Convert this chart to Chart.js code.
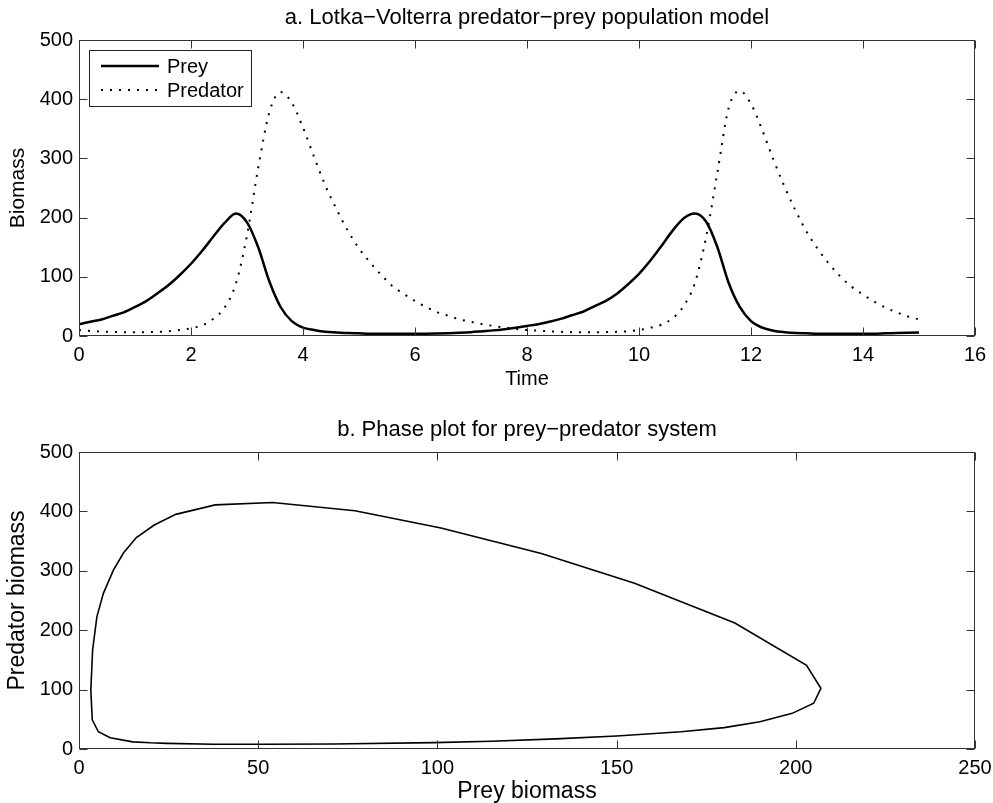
<!DOCTYPE html>
<html>
<head>
<meta charset="utf-8">
<title>Lotka-Volterra predator-prey</title>
<script src="https://cdn.jsdelivr.net/npm/chart.js@4.4.1/dist/chart.umd.min.js"></script>
<style>
  html, body { margin: 0; padding: 0; background: #fff; }
  #wrap { position: relative; width: 993px; height: 803px; }
  canvas { position: absolute; left: 0; }
  #timeChart { top: 0; }
  #phaseChart { top: 395px; }
</style>
</head>
<body>
<div id="wrap">
  <canvas id="timeChart" width="993" height="395"></canvas>
  <canvas id="phaseChart" width="993" height="408"></canvas>
</div>
<script>
// values
const time = [0, 0.2, 0.4, 0.6, 0.8, 1, 1.2, 1.4, 1.6, 1.8, 2, 2.2, 2.4, 2.6, 2.8, 3, 3.2, 3.4, 3.6, 3.8,
  4, 4.2, 4.4, 4.6, 4.8, 5, 5.2, 5.4, 5.6, 5.8, 6, 6.2, 6.4, 6.6, 6.8, 7, 7.2, 7.4, 7.6, 7.8,
  8, 8.2, 8.4, 8.6, 8.8, 9, 9.2, 9.4, 9.6, 9.8, 10, 10.2, 10.4, 10.6, 10.8, 11, 11.2, 11.4, 11.6, 11.8,
  12, 12.2, 12.4, 12.6, 12.8, 13, 13.2, 13.4, 13.6, 13.8, 14, 14.2, 14.4, 14.6, 14.8, 15];
const prey = [20, 24, 28, 34, 40, 49, 59, 72, 86, 103, 122, 144, 168, 191, 207, 192, 150, 92, 49, 25,
  14, 10, 7, 6, 5, 4.5, 4, 4, 3.8, 3.8, 4, 4, 4.3, 4.8, 5.5, 6.5, 8, 9.5, 11.5, 14,
  17, 20, 24, 29, 35, 41, 50, 59, 71, 87, 105, 127, 152, 178, 199, 207, 193, 150, 90, 49,
  25, 14, 9, 6.5, 5, 4.5, 4, 4, 3.8, 3.8, 4, 4, 4.5, 5, 5.5, 6];
const predator = [10, 8.5, 7.5, 7, 6.5, 6.5, 6.5, 7, 8, 10, 13, 18, 29, 48, 88, 170, 284, 378, 412, 394,
  352, 302, 254, 214, 178, 148, 124, 103, 84, 71, 59, 49, 40, 34, 28, 24, 20, 17, 14, 12,
  10, 9, 8, 7, 6.5, 6.3, 6.3, 6.5, 7, 8, 10, 14, 19, 30, 51, 90, 168, 276, 385, 414,
  392, 348, 298, 252, 211, 175, 146, 121, 100, 83, 70, 58, 48, 40, 33, 28];

// phase plot vertices (prey, predator)
const phasePrey = [20, 24.5, 37.5, 52, 71, 99, 115, 133, 150, 168, 180, 190, 199, 205, 207, 203, 183, 155,
  129, 101, 77, 54, 38, 27, 21, 16, 12.4, 9.6, 6.8, 5, 3.8, 3.3, 3.7, 5.4, 8.7, 15, 20];
const phasePredator = [10.5, 9.5, 8, 8, 8.4, 10.7, 13, 17, 22, 29, 36, 46, 60, 77, 102, 141, 212, 279,
  329, 372, 401, 415, 411, 395, 377, 356, 330, 301, 262, 223, 167, 99, 49, 29, 19, 12, 10.5];

const FONT = "Arial, 'Liberation Sans', Helvetica, sans-serif";

// MATLAB style box with inward ticks on all four sides
const boxPlugin = {
  id: 'matlabBox',
  afterDraw(chart) {
    const { ctx, chartArea: a, scales: { x, y } } = chart;
    const L = Math.round(a.left) + 0.5, R = Math.round(a.right) - 0.5;
    const T = Math.round(a.top) + 0.5, B = Math.round(a.bottom) - 0.5;
    const len = 8;
    ctx.save();
    ctx.strokeStyle = '#333';
    ctx.lineWidth = 1;
    ctx.strokeRect(L, T, R - L, B - T);
    ctx.beginPath();
    x.ticks.forEach(t => {
      const px = Math.round(x.getPixelForValue(t.value)) + 0.5;
      ctx.moveTo(px, B); ctx.lineTo(px, B - len);
      ctx.moveTo(px, T); ctx.lineTo(px, T + len);
    });
    y.ticks.forEach(t => {
      const py = Math.round(y.getPixelForValue(t.value)) + 0.5;
      ctx.moveTo(L, py); ctx.lineTo(L + len, py);
      ctx.moveTo(R, py); ctx.lineTo(R - len, py);
    });
    ctx.stroke();
    ctx.restore();
  }
};

// boxed legend in the upper left corner of the plot
const legendPlugin = {
  id: 'boxLegend',
  afterDraw(chart) {
    const ctx = chart.ctx;
    const a = chart.chartArea;
    const x0 = a.left + 10, y0 = a.top + 10, w = 162, h = 56;
    ctx.save();
    ctx.fillStyle = '#fff';
    ctx.fillRect(x0, y0, w, h);
    ctx.strokeStyle = '#222';
    ctx.lineWidth = 1;
    ctx.strokeRect(Math.round(x0) + 0.5, Math.round(y0) + 0.5, w, h);
    chart.data.datasets.forEach((ds, i) => {
      const ly = y0 + 16 + i * 24;
      ctx.beginPath();
      ctx.strokeStyle = ds.borderColor;
      ctx.lineWidth = ds.borderWidth;
      ctx.setLineDash(ds.borderDash || []);
      ctx.moveTo(x0 + 12, ly);
      ctx.lineTo(x0 + 70, ly);
      ctx.stroke();
      ctx.setLineDash([]);
      ctx.fillStyle = '#000';
      ctx.font = '20px ' + FONT;
      ctx.textBaseline = 'middle';
      ctx.fillText(ds.label, x0 + 78, ly + 1);
    });
    ctx.restore();
  }
};

// keep the plot box where the reference has it
const fitX = h => s => { s.height = h; s.paddingLeft = 0; s.paddingRight = 0; };
const fitY = s => { s.width = 79; s.paddingTop = 0; s.paddingBottom = 0; };

const timeCtx = document.getElementById('timeChart').getContext('2d');
new Chart(timeCtx, {
  type: 'line',
  data: {
    datasets: [{
      label: 'Prey',
      data: time.map((t, i) => ({ x: t, y: prey[i] })),
      borderColor: '#000',
      borderWidth: 2.5,
      pointRadius: 0,
      fill: false,
      cubicInterpolationMode: 'monotone'
    }, {
      label: 'Predator',
      data: time.map((t, i) => ({ x: t, y: predator[i] })),
      borderColor: '#000',
      borderWidth: 2,
      borderDash: [2, 7],
      pointRadius: 0,
      fill: false,
      cubicInterpolationMode: 'monotone'
    }]
  },
  options: {
    responsive: false,
    animation: false,
    events: [],
    layout: { padding: { left: 0, right: 18, top: 0, bottom: 0 } },
    plugins: {
      legend: { display: false },
      tooltip: { enabled: false },
      title: {
        display: true,
        fullSize: false,
        text: 'a. Lotka\u2212Volterra predator\u2212prey population model',
        color: '#000',
        font: { family: FONT, size: 22, weight: 'normal' },
        padding: { top: 4.5, bottom: 9.1 }
      }
    },
    scales: {
      x: {
        type: 'linear', min: 0, max: 16,
        ticks: { stepSize: 2, color: '#000', font: { family: FONT, size: 20 }, padding: 7, maxRotation: 0 },
        grid: { display: false, drawTicks: false },
        border: { display: false },
        title: { display: true, text: 'Time', color: '#000', font: { family: FONT, size: 20 }, padding: { top: 0, bottom: 4 } },
        afterFit: fitX(59)
      },
      y: {
        min: 0, max: 500,
        ticks: { stepSize: 100, color: '#000', font: { family: FONT, size: 20 }, padding: 6 },
        grid: { display: false, drawTicks: false },
        border: { display: false },
        title: { display: true, text: 'Biomass', color: '#000', font: { family: FONT, size: 21 }, padding: { top: 6, bottom: 0 } },
        afterFit: fitY
      }
    }
  },
  plugins: [boxPlugin, legendPlugin]
});

const phaseCtx = document.getElementById('phaseChart').getContext('2d');
new Chart(phaseCtx, {
  type: 'scatter',
  data: {
    datasets: [{
      label: 'Phase',
      data: phasePrey.map((v, i) => ({ x: v, y: phasePredator[i] })),
      showLine: true,
      borderColor: '#000',
      borderWidth: 1.6,
      pointRadius: 0,
      tension: 0,
      fill: false
    }]
  },
  options: {
    responsive: false,
    animation: false,
    events: [],
    layout: { padding: { left: 0, right: 18, top: 0, bottom: 0 } },
    plugins: {
      legend: { display: false },
      tooltip: { enabled: false },
      title: {
        display: true,
        fullSize: false,
        text: 'b. Phase plot for prey\u2212predator system',
        color: '#000',
        font: { family: FONT, size: 22, weight: 'normal' },
        padding: { top: 21.8, bottom: 8.8 }
      }
    },
    scales: {
      x: {
        type: 'linear', min: 0, max: 250,
        ticks: { stepSize: 50, color: '#000', font: { family: FONT, size: 20 }, padding: 7, maxRotation: 0 },
        grid: { display: false, drawTicks: false },
        border: { display: false },
        title: { display: true, text: 'Prey biomass', color: '#000', font: { family: FONT, size: 23, lineHeight: 1 }, padding: { top: 0, bottom: 0 } },
        afterFit: fitX(54)
      },
      y: {
        min: 0, max: 500,
        ticks: { stepSize: 100, color: '#000', font: { family: FONT, size: 20 }, padding: 6 },
        grid: { display: false, drawTicks: false },
        border: { display: false },
        title: { display: true, text: 'Predator biomass', color: '#000', font: { family: FONT, size: 23, lineHeight: 1 }, padding: { top: 6, bottom: 0 } },
        afterFit: fitY
      }
    }
  },
  plugins: [boxPlugin]
});
</script>
</body>
</html>
